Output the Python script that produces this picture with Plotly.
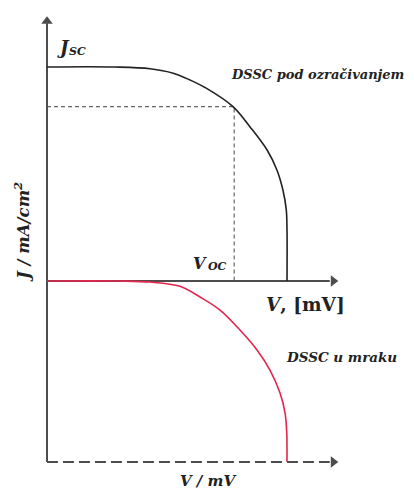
import plotly.graph_objects as go

# Normalised voltage (V / Voc) and current density (J / Jsc)
v_light = [0.0, 0.28, 0.43, 0.526, 0.596, 0.665, 0.776, 0.846, 0.917, 0.958,
           0.983, 0.997, 1.0, 1.0]
j_light = [1.0, 1.0, 0.992, 0.971, 0.939, 0.900, 0.814, 0.720, 0.612, 0.519,
           0.425, 0.332, 0.238, 0.0]

v_dark = [0.0, 0.30, 0.43, 0.554, 0.6375, 0.721, 0.804, 0.875, 0.929, 0.971, 0.992,
          0.999, 1.0, 1.0]
j_dark = [0.0, 0.0, -0.005, -0.025, -0.075, -0.136, -0.229, -0.322, -0.416, -0.523,
          -0.617, -0.710, -0.78, -0.846]

# Maximum power point
v_mp = 0.78
j_mp = 0.815

# Axis extents
v_axis_end = 1.208
j_axis_top = 1.234
j_axis_bottom = -0.846

AXIS = "#4d4d4d"
CURVE = "#222222"
RED = "#e3264f"
TXT = "#222222"
SERIF = "DejaVu Serif, Liberation Serif, serif"

fig = go.Figure()


def line(xs, ys, color, width=2, dash="solid", shape="linear"):
    fig.add_trace(go.Scatter(x=xs, y=ys, mode="lines", hoverinfo="skip",
                             line=dict(color=color, width=width, dash=dash,
                                       shape=shape, smoothing=1.0)))


# dotted guides to the maximum power point
line([0, v_mp, v_mp], [j_mp, j_mp, 0], "#666666", width=1.2, dash="4px,3px")

# axes
line([0, 0], [j_axis_bottom, j_axis_top - 0.03], AXIS)
line([0, v_axis_end - 0.03], [0, 0], AXIS)
line([0, v_axis_end - 0.03], [j_axis_bottom, j_axis_bottom], AXIS, dash="11px,5px")

# arrowheads
fig.add_trace(go.Scatter(x=[v_axis_end - 0.015, v_axis_end - 0.015], y=[0, j_axis_bottom],
                         mode="markers", hoverinfo="skip",
                         marker=dict(symbol="triangle-right", size=10, color=AXIS)))
fig.add_trace(go.Scatter(x=[0], y=[j_axis_top - 0.02], mode="markers", hoverinfo="skip",
                         marker=dict(symbol="triangle-up", size=10, color=AXIS)))

# illuminated and dark cell
line(v_light, j_light, CURVE, width=1.6, shape="spline")
line(v_dark, j_dark, RED, width=1.6, shape="spline")

annotations = []


def label(text, x, y, size, xanchor="center", angle=0, yanchor="middle"):
    annotations.append(dict(xref="x", yref="y", x=x, y=y, text=text, showarrow=False,
                            xanchor=xanchor, yanchor=yanchor, textangle=angle,
                            font=dict(family=SERIF, size=size, color=TXT)))


# J_SC and V_OC: big letter with small-caps index sharing the baseline
label("<b><i>J</i></b>", 0.033, 1.035, 18, xanchor="left", yanchor="bottom")
label("<b><i>SC</i></b>", 0.083, 1.035, 11, xanchor="left", yanchor="bottom")
label("<b><i>V</i></b>", 0.60, 0.03, 16, xanchor="left", yanchor="bottom")
label("<b><i>OC</i></b>", 0.662, 0.03, 11, xanchor="left", yanchor="bottom")

label("<b><i>DSSC pod ozračivanjem</i></b>", 0.758, 0.963, 13, xanchor="left")
label("<b><i>V</i>, [mV]</b>", 1.079, -0.112, 18.5)
label("<b><i>DSSC u mraku</i></b>", 1.229, -0.355, 13.5)
label("<b><i>V / mV</i></b>", 0.671, -0.935, 15)
label("<b><i>J / mA/cm<sup>2</sup></i></b>", -0.104, 0.229, 16.5, angle=-90)

fig.update_layout(
    width=414, height=490,
    margin=dict(l=0, r=0, t=0, b=0),
    paper_bgcolor="white", plot_bgcolor="white",
    showlegend=False,
    annotations=annotations,
    xaxis=dict(range=[-47 / 240, 367 / 240], visible=False, fixedrange=True),
    yaxis=dict(range=[-209 / 214, 281 / 214], visible=False, fixedrange=True),
)

fig.write_html("out.html")
